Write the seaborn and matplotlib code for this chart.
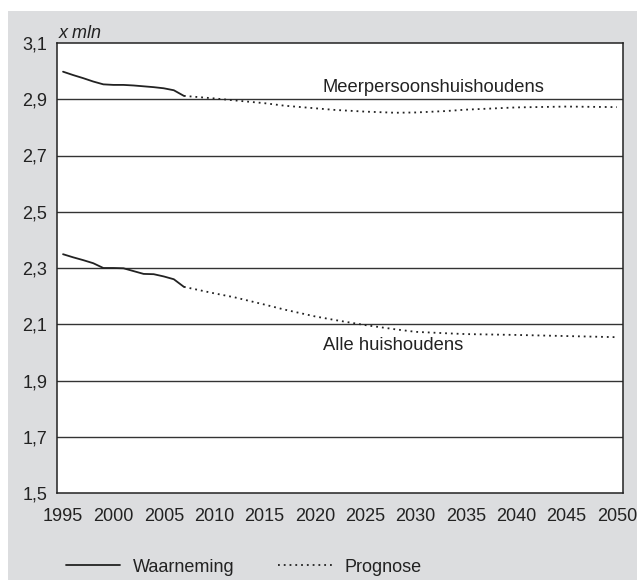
import pandas as pd
import seaborn as sns
import matplotlib.pyplot as plt
from matplotlib.lines import Line2D
from matplotlib.patches import Rectangle

# waarneming (observed)
years_obs = list(range(1995, 2008))
meer_obs = [2.998, 2.986, 2.975, 2.963, 2.953, 2.951, 2.951, 2.949, 2.946, 2.943, 2.939, 2.932, 2.912]
alle_obs = [2.349, 2.338, 2.328, 2.317, 2.300, 2.300, 2.299, 2.289, 2.279, 2.278, 2.270, 2.260, 2.233]

# prognose (forecast)
years_prog = [2007, 2010, 2012, 2015, 2017, 2020, 2022, 2025, 2028, 2030, 2033, 2035, 2040, 2045, 2050]
meer_prog = [2.912, 2.903, 2.896, 2.886, 2.877, 2.868, 2.862, 2.856, 2.852, 2.853, 2.858, 2.863, 2.871, 2.874, 2.872]
alle_prog = [2.233, 2.210, 2.196, 2.170, 2.152, 2.128, 2.115, 2.097, 2.082, 2.073, 2.068, 2.065, 2.062, 2.058, 2.054]

yticks = [1.5, 1.7, 1.9, 2.1, 2.3, 2.5, 2.7, 2.9, 3.1]
xticks = list(range(1995, 2051, 5))

obs = pd.DataFrame({'jaar': years_obs, 'meer': meer_obs, 'alle': alle_obs})
prog = pd.DataFrame({'jaar': years_prog, 'meer': meer_prog, 'alle': alle_prog})

sns.set_style("white")
plt.rcParams['font.family'] = ['Liberation Sans', 'DejaVu Sans']
ink = '#222222'
bg = '#dcdddf'

fig = plt.figure(figsize=(6.37, 5.8), dpi=100)
fig.patch.set_facecolor('white')
fig.add_artist(Rectangle((8 / 637, 0), 1, 1 - 11 / 580, transform=fig.transFigure,
                         facecolor=bg, edgecolor='none', zorder=-10))

ax = fig.add_axes([57 / 637, 87 / 580, 566 / 637, 450 / 580])
ax.set_facecolor('white')

for col in ['meer', 'alle']:
    sns.lineplot(data=obs, x='jaar', y=col, color=ink, linewidth=1.3, ax=ax)
    sns.lineplot(data=prog, x='jaar', y=col, color=ink, linewidth=1.3,
                 linestyle=(0, (1, 2.2)), ax=ax)

ax.set_xlim(1994.4, 2050.6)
ax.set_ylim(1.5, 3.1)
ax.set_yticks(yticks)
ax.set_yticklabels([f'{v:.1f}'.replace('.', ',') for v in yticks])
ax.set_xticks(xticks)
ax.set_xlabel('')
ax.set_ylabel('')
for g in yticks[1:-1]:
    ax.axhline(g, color='#333333', linewidth=1.0, zorder=0)

for s in ax.spines.values():
    s.set_color(ink)
    s.set_linewidth(1.1)
ax.tick_params(axis='y', length=0, pad=7, labelsize=13, labelcolor=ink)
ax.tick_params(axis='x', direction='out', length=7, width=1, color='#555555',
               pad=4, labelsize=13, labelcolor=ink)

ax.annotate('x mln', xy=(0, 1), xycoords='axes fraction', xytext=(1, 1),
            textcoords='offset points', ha='left', va='bottom',
            fontsize=13, style='italic', color=ink)
ax.text(2020.8, 2.943, 'Meerpersoonshuishoudens', fontsize=13.2, color=ink,
        ha='left', va='center')
ax.text(2020.8, 2.025, 'Alle huishoudens', fontsize=13.2, color=ink,
        ha='left', va='center')

handles = [Line2D([], [], color=ink, linewidth=1.3),
           Line2D([], [], color=ink, linewidth=1.3, linestyle=(0, (1, 2.2)))]
fig.legend(handles, ['Waarneming', 'Prognose'], loc='center left',
           bbox_to_anchor=(50 / 637, 1 - 567 / 580), ncol=2, frameon=False,
           fontsize=13, handlelength=3.0, handletextpad=0.7, columnspacing=2.4,
           labelcolor=ink)

fig.savefig('out.png', dpi=100, facecolor=fig.get_facecolor())
